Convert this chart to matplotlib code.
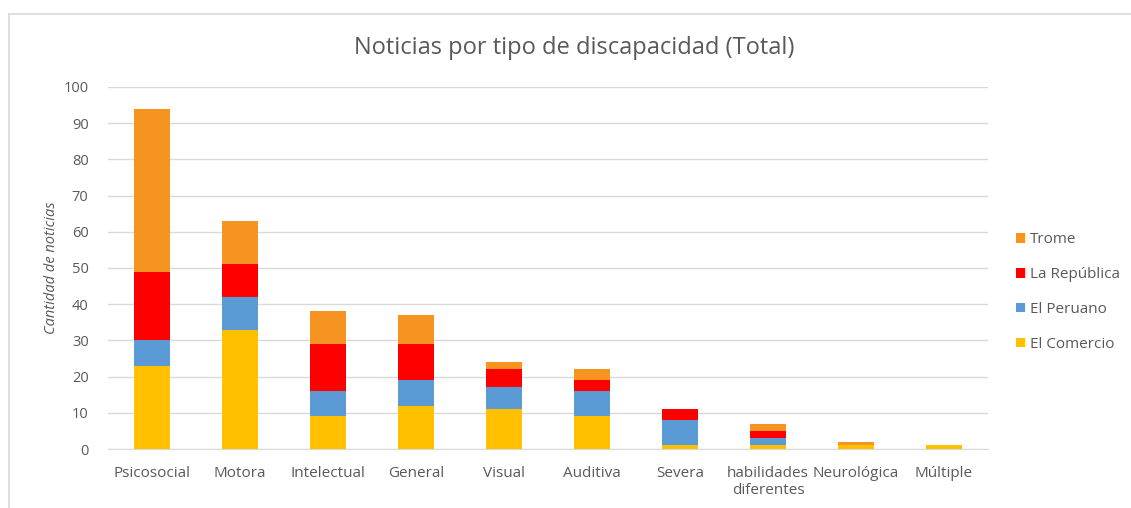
import matplotlib.pyplot as plt
import numpy as np
from matplotlib.patches import Patch
from matplotlib.lines import Line2D

categories = ["Psicosocial", "Motora", "Intelectual", "General", "Visual",
              "Auditiva", "Severa", "habilidades\ndiferentes", "Neurológica", "Múltiple"]
el_comercio = [23, 33, 9, 12, 11, 9, 1, 1, 1, 1]
el_peruano = [7, 9, 7, 7, 6, 7, 7, 2, 0, 0]
la_republica = [19, 9, 13, 10, 5, 3, 3, 2, 0, 0]
trome = [45, 12, 9, 8, 2, 3, 0, 2, 1, 0]

series = [("El Comercio", el_comercio, "#FFC000"),
          ("El Peruano", el_peruano, "#5B9BD5"),
          ("La República", la_republica, "#FF0000"),
          ("Trome", trome, "#F79320")]

plt.rcParams['font.family'] = ['Open Sans', 'DejaVu Sans']
textcol = "#595959"

fig = plt.figure(figsize=(11.31, 5.08), dpi=100)
ax = fig.add_axes([0.0955, 0.116, 0.778, 0.713])

x = np.arange(len(categories))
bottom = np.zeros(len(categories))
for name, vals, col in series:
	vals = np.array(vals, dtype=float)
	ax.bar(x, vals, 0.41, bottom=bottom, color=col, label=name, zorder=3)
	bottom += vals

ax.set_xlim(-0.5, len(categories) - 0.5)
ax.set_ylim(0, 100)
ax.set_yticks(range(0, 101, 10))
ax.set_xticks(x)
ax.set_xticklabels(categories, fontsize=11, color=textcol, linespacing=1.25)
ax.tick_params(axis='y', labelsize=10.5, colors=textcol, length=0, pad=14)
ax.tick_params(axis='x', length=0, pad=12)
ax.grid(axis='y', color="#D9D9D9", linewidth=1, zorder=0)
for s in ["top", "right", "left"]:
	ax.spines[s].set_visible(False)
ax.spines["bottom"].set_color("#D9D9D9")

ax.set_ylabel("Cantidad de noticias", fontsize=10.5, color=textcol, style='italic', labelpad=3)
fig.text(0.508, 0.906, "Noticias por tipo de discapacidad (Total)", ha='center', va='center',
         fontsize=17, color=textcol)

#legend in reverse order, on the right
handles = [Patch(facecolor=col, label=name) for name, vals, col in reversed(series)]
leg = fig.legend(handles=handles, loc='center left', bbox_to_anchor=(0.886, 0.425), frameon=False,
                 fontsize=11, handlelength=0.6, handleheight=0.6, handletextpad=0.3, labelspacing=1.3)
for t in leg.get_texts():
	t.set_color(textcol)

#chart frame
fig.add_artist(Line2D([0.008, 0.008], [0, 0.973], color="#D9D9D9", linewidth=1.2))
fig.add_artist(Line2D([0.008, 1], [0.973, 0.973], color="#D9D9D9", linewidth=1.2))

fig.savefig("out.png", dpi=100)
